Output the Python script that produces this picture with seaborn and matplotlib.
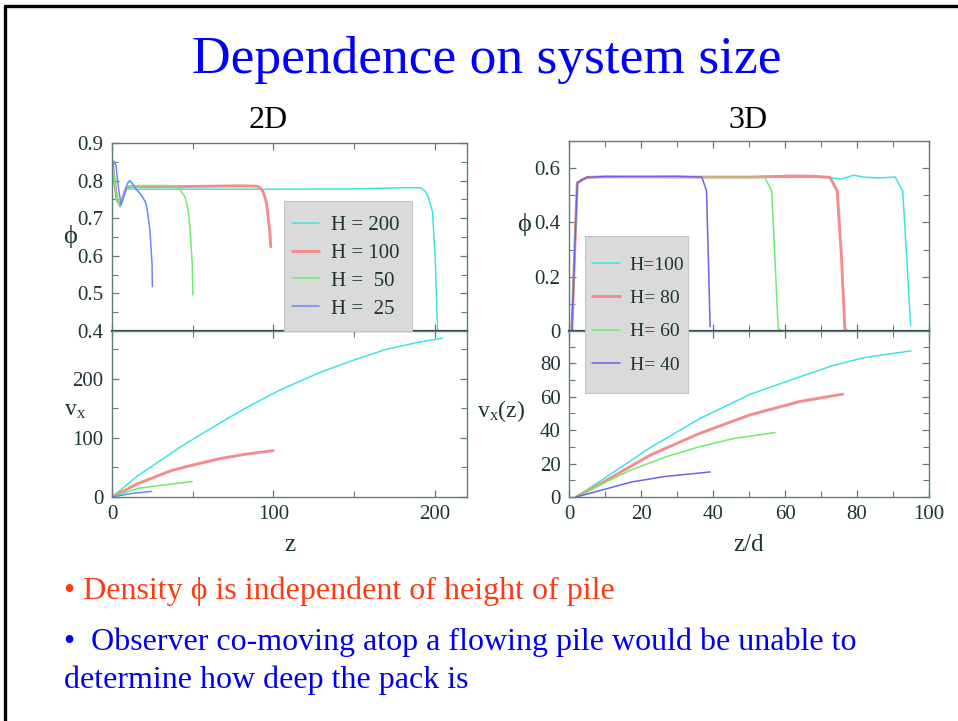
import matplotlib
matplotlib.use("Agg")
import matplotlib.pyplot as plt
import seaborn as sns
from matplotlib.lines import Line2D
from matplotlib.patches import Rectangle
from matplotlib.ticker import MultipleLocator

# ---------------- 2D : packing fraction phi(z) ----------------
z2_h200 = [0, 1, 2.5, 4, 5, 7, 9, 20, 50, 100, 150, 180, 191, 194, 196, 198.6, 200.3, 201.4, 201.8]
phi2_h200 = [0.862, 0.83, 0.77, 0.74, 0.73, 0.76, 0.778, 0.777, 0.777, 0.777, 0.778, 0.781,
             0.781, 0.772, 0.757, 0.717, 0.593, 0.45, 0.40]
z2_h100 = [0, 1.5, 3, 5, 7, 9, 12, 20, 40, 60, 80, 90, 92, 93.7, 95.5, 96.4, 97.8, 98.4]
phi2_h100 = [0.855, 0.8, 0.75, 0.735, 0.76, 0.782, 0.785, 0.784, 0.784, 0.785, 0.786, 0.785,
             0.78, 0.77, 0.745, 0.717, 0.664, 0.624]
z2_h50 = [0, 1.5, 3, 5, 7, 9, 12, 20, 30, 39, 42, 45.2, 47.3, 48.7, 49.7, 50.1]
phi2_h50 = [0.855, 0.8, 0.75, 0.735, 0.76, 0.783, 0.786, 0.787, 0.787, 0.786, 0.776, 0.757,
            0.72, 0.651, 0.58, 0.496]
z2_h25 = [0, 1.5, 2.5, 4, 5.6, 7.5, 9.5, 11, 13, 15, 17.5, 19.4, 21, 21.9, 23.5, 24.8, 25]
phi2_h25 = [0.83, 0.85, 0.84, 0.78, 0.735, 0.76, 0.792, 0.80, 0.79, 0.777, 0.765, 0.753,
            0.74, 0.72, 0.669, 0.58, 0.518]

# ---------------- 2D : velocity profiles v_x(z) ----------------
zv2_h200 = [0, 16, 42, 63, 83, 104, 129, 150, 170, 190, 205]
v2_h200 = [0, 36, 84, 119, 151, 181, 211, 232, 250, 262, 269]
zv2_h100 = [0, 16.3, 37, 50, 66.9, 83, 99.9]
v2_h100 = [0, 23, 45, 54, 65, 72.5, 78.5]
zv2_h50 = [0, 16.3, 37, 49.7]
v2_h50 = [0, 14.7, 22, 26]
zv2_h25 = [0, 12.2, 24.6]
v2_h25 = [0, 6, 9.6]

labels_2d = ["H = 200", "H = 100", "H =  50", "H =  25"]

# ---------------- 3D : packing fraction phi(z/d) ----------------
z3_h100 = [0.8, 1.6, 2.3, 3.5, 5, 10, 30, 50, 70, 75.7, 79, 81.8, 86, 90.6, 92.7, 93.8, 94.9]
phi3_h100 = [0, 0.30, 0.545, 0.556, 0.566, 0.567, 0.567, 0.566, 0.567, 0.56, 0.574, 0.567,
             0.564, 0.567, 0.516, 0.27, 0.02]
z3_h80 = [0.8, 1.6, 2.3, 3.5, 5, 10, 30, 50, 62, 68, 72.5, 74.5, 75.7, 76.6, 77.1]
phi3_h80 = [0, 0.30, 0.545, 0.556, 0.566, 0.568, 0.567, 0.567, 0.571, 0.570, 0.566, 0.516,
            0.27, 0.01, 0]
z3_h60 = [0.8, 1.6, 2.3, 3.5, 5, 10, 30, 45, 54.4, 56.3, 57.2, 58.1, 59]
phi3_h60 = [0, 0.30, 0.545, 0.556, 0.566, 0.567, 0.566, 0.566, 0.565, 0.516, 0.27, 0.01, 0]
z3_h40 = [0.8, 1.6, 2.3, 3.5, 5, 10, 20, 30, 36.9, 38.2, 38.7, 39.2]
phi3_h40 = [0, 0.30, 0.545, 0.556, 0.566, 0.569, 0.569, 0.570, 0.567, 0.516, 0.27, 0.016]

# ---------------- 3D : velocity profiles v_x(z) ----------------
zv3_h100 = [2, 12.8, 22.5, 36.4, 50.3, 64.2, 73, 82, 95]
v3_h100 = [0, 15.5, 29.5, 47, 61.5, 72, 78.5, 83.5, 87.5]
zv3_h80 = [2, 8, 22.5, 36.4, 50.3, 64.2, 76]
v3_h80 = [0, 7, 25, 38.2, 49.2, 57.2, 61.6]
zv3_h60 = [2, 8, 17, 27.1, 36.4, 45.7, 57.2]
v3_h60 = [0, 6.5, 16, 24.2, 30.2, 35, 38.6]
zv3_h40 = [2, 8, 17.4, 26.7, 39.2]
v3_h40 = [0, 3.5, 9, 12.3, 15]

labels_3d = ["H=100", "H= 80", "H= 60", "H= 40"]

CYAN, RED, GREEN = "#3fe3e3", "#f48c8c", "#6fec6f"
BLUE2, BLUE3 = "#6688ff", "#6a62ee"
WIDTHS = [1.1, 2.1, 1.1, 1.1]

sns.set_theme(style="ticks")
SERIF = ["Liberation Serif", "DejaVu Serif"]
plt.rcParams["font.family"] = SERIF
plt.rcParams["mathtext.fontset"] = "custom"
plt.rcParams["mathtext.rm"] = "Liberation Serif"
plt.rcParams["mathtext.it"] = "Liberation Serif"

W, H = 958, 721
fig = plt.figure(figsize=(W / 100, H / 100), dpi=100)
fig.patch.set_facecolor("white")


def fx(px):
    return px / W


def fy(py):
    return 1 - py / H


def add_ax(x0, x1, y0, y1):
    return fig.add_axes([fx(x0), fy(y1), fx(x1) - fx(x0), (y1 - y0) / H])


TICK_C = "#1e3434"
SPINE_C = "#5f7d7d"


def style(ax, xmaj, xmin, ymaj, ymin, xlabels=True):
    ax.set_facecolor("white")
    for s in ax.spines.values():
        s.set_visible(True)
        s.set_color(SPINE_C)
        s.set_linewidth(1.0)
    ax.xaxis.set_major_locator(MultipleLocator(xmaj))
    ax.xaxis.set_minor_locator(MultipleLocator(xmin))
    ax.yaxis.set_major_locator(MultipleLocator(ymaj))
    ax.yaxis.set_minor_locator(MultipleLocator(ymin))
    ax.tick_params(which="both", direction="in", top=True, right=True,
                   color=SPINE_C, labelcolor=TICK_C, labelsize=15, pad=6)
    ax.tick_params(which="major", length=5, width=0.9)
    ax.tick_params(which="minor", length=4, width=0.8)
    if not xlabels:
        ax.tick_params(axis="x", labelbottom=False)
    ax.set_xlabel("")
    ax.set_ylabel("")


# ---------------- 2D panels ----------------
ax2t = add_ax(112, 467, 143, 331)
ax2b = add_ax(112, 467, 331, 497)
cols2 = [CYAN, RED, GREEN, BLUE2]
for z, p, c, w in zip([z2_h200, z2_h100, z2_h50, z2_h25],
                      [phi2_h200, phi2_h100, phi2_h50, phi2_h25], cols2, WIDTHS):
    sns.lineplot(x=z, y=p, ax=ax2t, color=c, lw=w, sort=False, estimator=None)
for z, v, c, w in zip([zv2_h200, zv2_h100, zv2_h50, zv2_h25],
                      [v2_h200, v2_h100, v2_h50, v2_h25], cols2, WIDTHS):
    sns.lineplot(x=z, y=v, ax=ax2b, color=c, lw=w, sort=False, estimator=None)
ax2t.set_xlim(0, 220)
ax2t.set_ylim(0.4, 0.9)
ax2b.set_xlim(0, 220)
ax2b.set_ylim(0, 281)
style(ax2t, 100, 50, 0.1, 0.05, xlabels=False)
style(ax2b, 100, 50, 100, 50)
ax2t.set_yticks([0.4, 0.5, 0.6, 0.7, 0.8, 0.9])
ax2t.set_yticklabels(["0.4", "0.5", "0.6", "0.7", "0.8", "0.9"])
ax2t.spines["bottom"].set_color("#2e4646")
ax2t.spines["bottom"].set_linewidth(1.6)

ax2t.set_ylabel("\u03d5", rotation=0, fontsize=19, color=TICK_C, va="center", ha="center")
ax2t.yaxis.set_label_coords(-0.118, 0.5)
ax2b.set_ylabel(r"$\mathrm{v_x}$", rotation=0, fontsize=17, color=TICK_C, va="center",
                ha="center")
ax2b.yaxis.set_label_coords(-0.104, 0.52)
ax2b.set_xlabel("z", fontsize=18, color=TICK_C, va="center")
ax2b.xaxis.set_label_coords(0.5, -0.29)

# ---------------- 3D panels ----------------
ax3t = add_ax(569, 929, 141, 331)
ax3b = add_ax(569, 929, 331, 497)
cols3 = [CYAN, RED, GREEN, BLUE3]
for z, p, c, w in zip([z3_h100, z3_h80, z3_h60, z3_h40],
                      [phi3_h100, phi3_h80, phi3_h60, phi3_h40], cols3, WIDTHS):
    sns.lineplot(x=z, y=p, ax=ax3t, color=c, lw=w, sort=False, estimator=None)
for z, v, c, w in zip([zv3_h100, zv3_h80, zv3_h60, zv3_h40],
                      [v3_h100, v3_h80, v3_h60, v3_h40], cols3, WIDTHS):
    sns.lineplot(x=z, y=v, ax=ax3b, color=c, lw=w, sort=False, estimator=None)
ax3t.set_xlim(0, 100)
ax3t.set_ylim(0, 0.7)
ax3b.set_xlim(0, 100)
ax3b.set_ylim(0, 99.4)
style(ax3t, 20, 10, 0.2, 0.1, xlabels=False)
style(ax3b, 20, 10, 20, 10)
ax3t.set_yticks([0, 0.2, 0.4, 0.6])
ax3t.set_yticklabels(["0", "0.2", "0.4", "0.6"])
ax3t.spines["bottom"].set_color("#2e4646")
ax3t.spines["bottom"].set_linewidth(1.6)

ax3t.set_ylabel("\u03d5", rotation=0, fontsize=19, color=TICK_C, va="center", ha="center")
ax3t.yaxis.set_label_coords(-0.125, 0.56)
ax3b.set_ylabel(r"$\mathrm{v_x(z)}$", rotation=0, fontsize=17, color=TICK_C, va="center",
                ha="center")
ax3b.yaxis.set_label_coords(-0.19, 0.52)
ax3b.set_xlabel("z/d", fontsize=18, color=TICK_C, va="center")
ax3b.xaxis.set_label_coords(0.5, -0.29)

# ---------------- legends ----------------
def legend_box(x0, x1, y0, y1):
    fig.add_artist(Rectangle((fx(x0), fy(y1)), fx(x1) - fx(x0), (y1 - y0) / H,
                             transform=fig.transFigure, facecolor="#dadada",
                             edgecolor="#c4c4c4", lw=0.8, zorder=3))


legend_box(284, 412, 201, 331)
h2 = [Line2D([], [], color=c, lw=w) for c, w in zip(cols2, WIDTHS)]
fig.legend(h2, labels_2d, loc="center", bbox_to_anchor=(fx(346), fy(267)),
           frameon=False, fontsize=15, handlelength=1.25, handletextpad=0.6,
           labelspacing=0.4, borderpad=0, labelcolor=TICK_C).set_zorder(5)

legend_box(585, 688, 236, 393)
h3 = [Line2D([], [], color=c, lw=w) for c, w in zip(cols3, WIDTHS)]
fig.legend(h3, labels_3d, loc="center", bbox_to_anchor=(fx(638), fy(315)),
           frameon=False, fontsize=14, handlelength=1.45, handletextpad=0.5,
           labelspacing=0.8, borderpad=0, labelcolor=TICK_C).set_zorder(5)

# ---------------- slide text ----------------
fig.text(fx(486.5), fy(73), "Dependence on system size", ha="center", va="baseline",
         fontsize=38.5, color="#0000ff")
fig.text(fx(268), fy(128), "2D", ha="center", va="baseline", fontsize=23, color="black")
fig.text(fx(748), fy(128), "3D", ha="center", va="baseline", fontsize=23, color="black")
fig.text(fx(64), fy(599), "\u2022 Density \u03d5 is independent of height of pile", ha="left",
         va="baseline", fontsize=23, color="#ff3a10")
fig.text(fx(64), fy(650), "\u2022  Observer co-moving atop a flowing pile would be unable to",
         ha="left", va="baseline", fontsize=23, color="#0000ee")
fig.text(fx(64), fy(688), "determine how deep the pack is", ha="left", va="baseline",
         fontsize=23, color="#0000ee")

# slide frame (left and top edges)
fig.add_artist(Line2D([fx(4.5), fx(4.5)], [0, fy(6)], transform=fig.transFigure,
                      color="black", lw=2.4))
fig.add_artist(Line2D([fx(4.5), 1], [fy(6), fy(6)], transform=fig.transFigure,
                      color="black", lw=2.4))

fig.savefig("out.png", dpi=100, facecolor="white")
